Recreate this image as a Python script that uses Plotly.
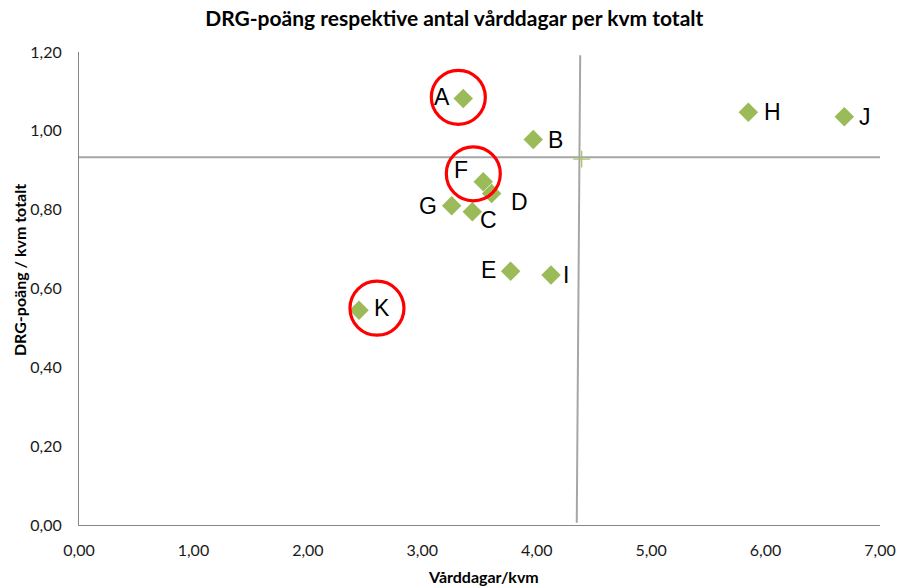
import plotly.graph_objects as go

# Units: care days per m2 (x) and DRG points per m2 (y)
labels = ["A", "B", "C", "D", "E", "F", "G", "H", "I", "J", "K"]
vardagar_kvm = [3.358, 3.970, 3.437, 3.606, 3.772, 3.533, 3.257, 5.849, 4.125, 6.688, 2.447]
drg_kvm = [1.082, 0.978, 0.795, 0.841, 0.644, 0.871, 0.810, 1.047, 0.634, 1.036, 0.545]

# Reference point (plus marker) and the quadrant divider positions
ref_x = [4.393]
ref_y = [0.928]
divider_x = 4.37
divider_y = 0.933

# Units highlighted with a red ring
highlighted = ["A", "F", "K"]
ring_centers = {"A": (3.315, 1.085), "F": (3.446, 0.891), "K": (2.604, 0.550)}

# Pixel offsets of each unit label relative to its marker
label_offsets = {
    "A": (-21, 2), "B": (22, 0), "C": (16, -8), "D": (28, -8), "E": (-22, 1),
    "F": (-22, 12), "G": (-24, 0), "H": (24, 0), "I": (15, 0), "J": (21, 0), "K": (23, 2),
}

GREEN = "#9BBB59"
GREY_LINE = "#A6A6A6"
AXIS_GREY = "#868686"
FONT = "Lato"

fig = go.Figure()

fig.add_trace(go.Scatter(
    x=vardagar_kvm, y=drg_kvm, mode="markers",
    marker=dict(symbol="diamond", size=15, color=GREEN, line=dict(width=0)),
    hovertext=labels, showlegend=False,
))

fig.add_trace(go.Scatter(
    x=ref_x, y=ref_y, mode="markers",
    marker=dict(symbol="cross-thin", size=12, color=GREEN, line=dict(color="#A8C66A", width=1.3)),
    showlegend=False,
))

# Quadrant divider lines
fig.add_shape(type="line", xref="x", yref="y", x0=0, x1=7, y0=divider_y, y1=divider_y,
              line=dict(color=GREY_LINE, width=2), layer="below")
fig.add_shape(type="line", xref="x", yref="y", x0=divider_x + 0.01, x1=divider_x - 0.02,
              y0=1.192, y1=0.006, line=dict(color=GREY_LINE, width=2), layer="below")

# Red rings
for name in highlighted:
    cx, cy = ring_centers[name]
    rx, ry = 27 / 114.43, 27 / 394.2
    fig.add_shape(type="circle", xref="x", yref="y",
                  x0=cx - rx, x1=cx + rx, y0=cy - ry, y1=cy + ry,
                  line=dict(color="#FF0000", width=3.2))

# Unit labels
for name, xv, yv in zip(labels, vardagar_kvm, drg_kvm):
    dx, dy = label_offsets[name]
    fig.add_annotation(x=xv, y=yv, text=name, showarrow=False,
                       xshift=dx, yshift=dy, xanchor="center", yanchor="middle",
                       font=dict(family="Liberation Sans, Arial", size=23, color="#000000"))

# Axis titles
fig.add_annotation(xref="paper", yref="paper", x=0.505, y=0, yshift=-51,
                   xanchor="center", yanchor="middle",
                   text="<b>Vårddagar/kvm</b>", showarrow=False,
                   font=dict(family=FONT, size=16, color="#000000"))
fig.add_annotation(xref="paper", yref="paper", x=0, xshift=-60, y=0.539,
                   xanchor="center", yanchor="middle",
                   text="<b>DRG-poäng / kvm totalt</b>", textangle=-90, showarrow=False,
                   font=dict(family=FONT, size=16, color="#000000"))

fig.update_layout(
    width=905, height=588,
    margin=dict(l=79, r=25, t=52, b=63),
    paper_bgcolor="white", plot_bgcolor="white",
    separators=",.",
    title=dict(text="<b>DRG-poäng respektive antal vårddagar per kvm totalt</b>",
               x=0.502, xanchor="center", y=0.969, yanchor="middle",
               font=dict(family=FONT, size=21, color="#000000")),
    xaxis=dict(range=[0, 7], dtick=1, tickformat=".2f", showgrid=False, zeroline=False,
               showline=True, linecolor=AXIS_GREY, linewidth=1, automargin=False,
               ticks="outside", ticklen=11, tickcolor="rgba(0,0,0,0)",
               tickfont=dict(family=FONT, size=16, color="#1a1a1a")),
    yaxis=dict(range=[0, 1.2], dtick=0.2, tickformat=".2f", showgrid=False, zeroline=False,
               showline=True, linecolor=AXIS_GREY, linewidth=1, automargin=False,
               ticks="outside", ticklen=13, tickcolor="rgba(0,0,0,0)",
               tickfont=dict(family=FONT, size=16, color="#1a1a1a")),
)

fig.write_html("out.html")
